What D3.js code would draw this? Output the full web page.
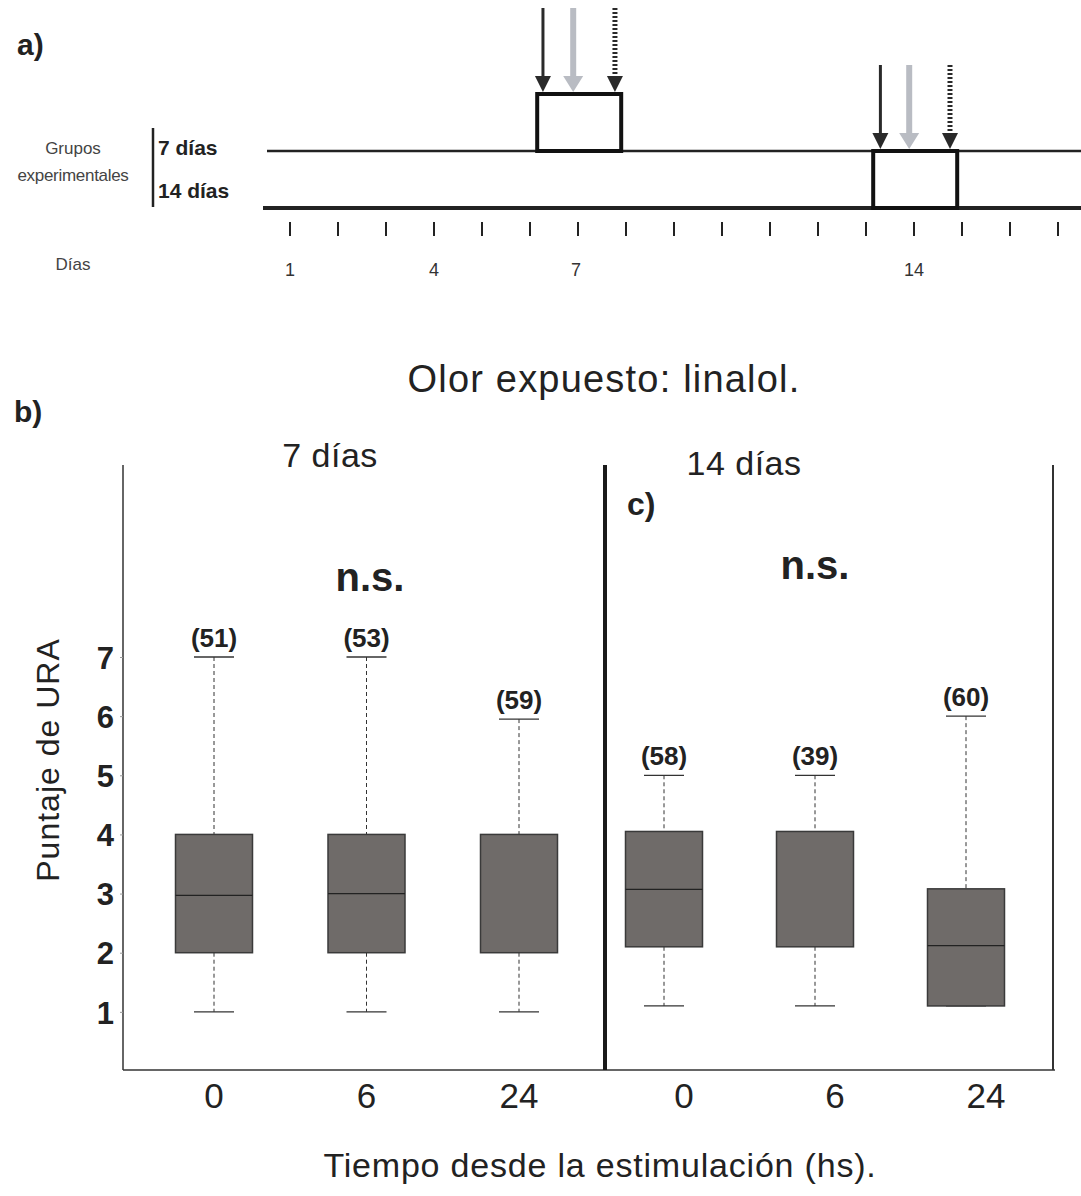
<!DOCTYPE html>
<html>
<head>
<meta charset="utf-8">
<script src="https://cdn.jsdelivr.net/npm/d3@7"></script>
<style>
  body { margin: 0; background: #fff; }
  svg { font-family: "Liberation Sans", Arial, sans-serif; }
</style>
</head>
<body>
<div id="container"></div>
<script>
// ---- data ----
var dayTicks = d3.range(1, 18);
var dayLabels = [1, 4, 7, 14];
var groupNames = ["7 días", "14 días"];
var groupDays = [7, 14];           // day of exposure for each group
var boxStart = [6.15, 13.15];      // day where the exposure box starts
var boxEnd = [7.9, 14.9];
var arrowDays = [[6.27, 6.9, 7.77], [13.3, 13.9, 14.75]];
var arrowTop = [8, 65];

var times = ["0", "6", "24"];
var panelNames = ["7 días", "14 días"];
var nCounts = [[51, 53, 59], [58, 39, 60]];
var whiskLo = [[1, 1, 1], [1.1, 1.1, 1.1]];
var whiskHi = [[7, 7, 5.95], [5, 5, 6]];
var q1 = [[2, 2, 2], [2.1, 2.1, 1.1]];
var q3 = [[4, 4, 4], [4.05, 4.05, 3.08]];
var medians = [[2.97, 3, null], [3.07, null, 2.12]];
var yTicks = [1, 2, 3, 4, 5, 6, 7];

var W = 1081, H = 1196;
var svg = d3.select("#container").append("svg")
    .attr("width", W)
    .attr("height", H);

// ---------- panel a ----------
var dx = d3.scaleLinear().domain([1, 17]).range([290, 1058]);
var lineY = [151, 208];
var boxH = 57;

svg.append("text").attr("x", 17).attr("y", 55)
    .attr("font-size", 30).attr("font-weight", "bold").attr("fill", "#222").text("a)");

svg.append("text").attr("x", 73).attr("y", 154).attr("text-anchor", "middle")
    .attr("font-size", 17).attr("fill", "#444").text("Grupos");
svg.append("text").attr("x", 73).attr("y", 181).attr("text-anchor", "middle")
    .attr("font-size", 17).attr("fill", "#444").attr("letter-spacing", -0.3).text("experimentales");
svg.append("line").attr("x1", 153).attr("x2", 153).attr("y1", 128).attr("y2", 207)
    .attr("stroke", "#222").attr("stroke-width", 2.5);
groupNames.forEach(function(g, i) {
  svg.append("text").attr("x", 158).attr("y", [155, 198][i])
      .attr("font-size", 21).attr("font-weight", "bold").attr("fill", "#222").text(g);
});

// timeline lines
lineY.forEach(function(y, i) {
  svg.append("line").attr("x1", [267, 263][i]).attr("x2", 1081)
      .attr("y1", y).attr("y2", y)
      .attr("stroke", "#222").attr("stroke-width", i ? 4 : 2.5);
});

// exposure boxes
groupDays.forEach(function(d, i) {
  var yb = lineY[i];
  svg.append("rect")
      .attr("x", dx(boxStart[i])).attr("y", yb - boxH)
      .attr("width", dx(boxEnd[i]) - dx(boxStart[i])).attr("height", boxH)
      .attr("fill", "#fff").attr("stroke", "#111").attr("stroke-width", 4);

  var headY = yb - boxH - 2;
  arrowDays[i].forEach(function(a, k) {
    var x = dx(a);
    var col = k === 1 ? "#b9bcc3" : "#2a2a2a";
    var sw = k === 1 ? 6 : (k === 2 ? 5 : 3);
    var hw = k === 1 ? 10 : 8;
    var shaft = svg.append("line").attr("x1", x).attr("x2", x)
        .attr("y1", arrowTop[i]).attr("y2", headY - 12)
        .attr("stroke", col).attr("stroke-width", sw);
    if (k === 2) shaft.attr("stroke-dasharray", "2,2");
    svg.append("path")
        .attr("d", "M" + (x - hw) + "," + (headY - 16) + "L" + (x + hw) + "," + (headY - 16) + "L" + x + "," + headY + "Z")
        .attr("fill", col);
  });
});

// day ticks
svg.selectAll(".dtick").data(dayTicks).enter().append("line")
    .attr("x1", function(d) { return dx(d); }).attr("x2", function(d) { return dx(d); })
    .attr("y1", 222).attr("y2", 236)
    .attr("stroke", "#222").attr("stroke-width", 2);
svg.selectAll(".dlab").data(dayLabels).enter().append("text")
    .attr("x", function(d) { return dx(d) - (d === 7 ? 2 : 0); }).attr("y", 276)
    .attr("text-anchor", "middle").attr("font-size", 18).attr("fill", "#333")
    .text(function(d) { return d; });
svg.append("text").attr("x", 73).attr("y", 270).attr("text-anchor", "middle")
    .attr("font-size", 17).attr("fill", "#444").text("Días");

// ---------- title ----------
svg.append("text").attr("x", 604).attr("y", 392).attr("text-anchor", "middle")
    .attr("font-size", 38).attr("letter-spacing", 1.2).attr("fill", "#222").text("Olor expuesto: linalol.");

svg.append("text").attr("x", 14).attr("y", 422)
    .attr("font-size", 30).attr("font-weight", "bold").attr("fill", "#222").text("b)");

// ---------- panel b / c ----------
var y = d3.scaleLinear().domain([0, 7]).range([1071, 657]);
var panelX = [d3.scalePoint().domain(times).range([214, 519]),
              d3.scalePoint().domain(times).range([664, 966])];
var labelShift = [0, 20];
var panelTop = 465, bottom = 1070;
var boxW = 77, capW = 40;

// frame
svg.append("line").attr("x1", 123).attr("x2", 123).attr("y1", panelTop).attr("y2", bottom)
    .attr("stroke", "#333").attr("stroke-width", 1.5);
svg.append("line").attr("x1", 123).attr("x2", 1055).attr("y1", bottom).attr("y2", bottom)
    .attr("stroke", "#333").attr("stroke-width", 1.5);
svg.append("line").attr("x1", 605).attr("x2", 605).attr("y1", panelTop).attr("y2", bottom)
    .attr("stroke", "#1a1a1a").attr("stroke-width", 4);
svg.append("line").attr("x1", 1053).attr("x2", 1053).attr("y1", panelTop).attr("y2", bottom)
    .attr("stroke", "#333").attr("stroke-width", 2);

// y axis
var yAxis = svg.append("g").attr("transform", "translate(123,0)")
    .call(d3.axisLeft(y).tickValues(yTicks).tickFormat(d3.format("d")).tickSize(3).tickPadding(6));
yAxis.select(".domain").remove();
yAxis.selectAll("text").attr("font-size", 31).attr("font-weight", "bold").attr("dy", "0.36em")
    .attr("fill", "#222").attr("font-family", "Liberation Sans, Arial, sans-serif");
yAxis.selectAll("line").attr("stroke", "#999");

svg.append("text").attr("transform", "translate(59,760) rotate(-90)")
    .attr("text-anchor", "middle").attr("font-size", 32).attr("letter-spacing", 1).attr("fill", "#222")
    .text("Puntaje de URA");

// panel titles
svg.append("text").attr("x", 330).attr("y", 467).attr("text-anchor", "middle")
    .attr("font-size", 34).attr("letter-spacing", 0.5).attr("fill", "#222").text(panelNames[0]);
svg.append("text").attr("x", 744).attr("y", 475).attr("text-anchor", "middle")
    .attr("font-size", 34).attr("letter-spacing", 0.5).attr("fill", "#222").text(panelNames[1]);
svg.append("text").attr("x", 627).attr("y", 515)
    .attr("font-size", 32).attr("font-weight", "bold").attr("fill", "#222").text("c)");
svg.append("text").attr("x", 370).attr("y", 591).attr("text-anchor", "middle")
    .attr("font-size", 40).attr("font-weight", "bold").attr("fill", "#222").text("n.s.");
svg.append("text").attr("x", 815).attr("y", 579).attr("text-anchor", "middle")
    .attr("font-size", 40).attr("font-weight", "bold").attr("fill", "#222").text("n.s.");

// boxes
[0, 1].forEach(function(p) {
  var x = panelX[p];
  var g = svg.append("g");
  times.forEach(function(t, i) {
    var cx = x(t);
    // whiskers
    g.append("line").attr("x1", cx).attr("x2", cx)
        .attr("y1", y(whiskHi[p][i])).attr("y2", y(q3[p][i]))
        .attr("stroke", "#333").attr("stroke-width", 1).attr("stroke-dasharray", "4,3");
    g.append("line").attr("x1", cx).attr("x2", cx)
        .attr("y1", y(q1[p][i])).attr("y2", y(whiskLo[p][i]))
        .attr("stroke", "#333").attr("stroke-width", 1).attr("stroke-dasharray", "4,3");
    [whiskHi[p][i], whiskLo[p][i]].forEach(function(v) {
      g.append("line").attr("x1", cx - capW / 2).attr("x2", cx + capW / 2)
          .attr("y1", y(v)).attr("y2", y(v))
          .attr("stroke", "#333").attr("stroke-width", 1.3);
    });
    g.append("rect")
        .attr("x", cx - boxW / 2).attr("y", y(q3[p][i]))
        .attr("width", boxW).attr("height", y(q1[p][i]) - y(q3[p][i]))
        .attr("fill", "#6f6b69").attr("stroke", "#3a3a3a").attr("stroke-width", 1.5);
    if (medians[p][i] !== null) {
      g.append("line").attr("x1", cx - boxW / 2).attr("x2", cx + boxW / 2)
          .attr("y1", y(medians[p][i])).attr("y2", y(medians[p][i]))
          .attr("stroke", "#222").attr("stroke-width", 1.2);
    }
    g.append("text").attr("x", cx).attr("y", y(whiskHi[p][i]) - 10)
        .attr("text-anchor", "middle").attr("font-size", 26).attr("font-weight", "bold")
        .attr("fill", "#222").text("(" + nCounts[p][i] + ")");
    // x labels
    g.append("text").attr("x", cx + labelShift[p]).attr("y", 1108)
        .attr("text-anchor", "middle").attr("font-size", 35).attr("fill", "#222").text(t);
  });
});

svg.append("text").attr("x", 600).attr("y", 1177).attr("text-anchor", "middle")
    .attr("font-size", 34).attr("letter-spacing", 0.8).attr("fill", "#222").text("Tiempo desde la estimulación (hs).");
</script>
</body>
</html>
